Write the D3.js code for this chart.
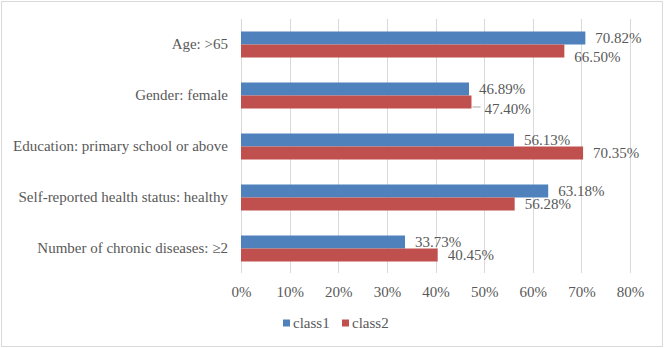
<!DOCTYPE html>
<html>
<head>
<meta charset="utf-8">
<script src="https://cdn.jsdelivr.net/npm/d3@7"></script>
<style>
  html, body { margin: 0; padding: 0; background: #fff; }
</style>
</head>
<body>
<svg id="chart" width="665" height="348"></svg>
<script>
const categories = [
  "Age: >65",
  "Gender: female",
  "Education: primary school or above",
  "Self-reported health status: healthy",
  "Number of chronic diseases: \u22652"
];
const seriesNames = ["class1", "class2"];
const class1 = [70.82, 46.89, 56.13, 63.18, 33.73];
const class2 = [66.50, 47.40, 70.35, 56.28, 40.45];
const xTicks = [0, 10, 20, 30, 40, 50, 60, 70, 80];
const colors = ["#4F81BD", "#C0504D"];

// manual label nudges (vertical px) for class2 labels, as in the reference
const class2LabelNudge = [6, 6.5, 0, 0, 0];

const FONT = "Liberation Serif";
const fontSize = 15;
const TEXT = "#595959";

const svg = d3.select("#chart").style("font-family", FONT);

function styleText(sel) {
  return sel.style("font-family", FONT).style("font-size", fontSize + "px").style("fill", TEXT);
}

// outer frame
svg.append("rect")
  .attr("x", 1.5).attr("y", 1.5).attr("width", 661).attr("height", 345)
  .attr("fill", "#fff").attr("stroke", "#D9D9D9").attr("stroke-width", 1);

const x = d3.scaleLinear().domain([0, 80]).range([241, 630]);
const y = d3.scaleBand().domain(categories).range([19, 274])
  .paddingInner(0.49).paddingOuter(0.245);
const ySub = d3.scaleBand().domain(seriesNames).range([0, y.bandwidth()]);

// gridlines
svg.append("g").selectAll("line").data(xTicks).join("line")
  .attr("x1", d => Math.round(x(d)) + 0.5).attr("x2", d => Math.round(x(d)) + 0.5)
  .attr("y1", 19).attr("y2", 273)
  .attr("stroke", "#D9D9D9").attr("stroke-width", 1);

// x axis labels
const xAxis = d3.axisBottom(x).tickValues(xTicks).tickFormat(d => d + "%").tickSize(0).tickPadding(0);
const gx = svg.append("g").attr("transform", "translate(0,292)").call(xAxis)
  .attr("font-family", null).attr("font-size", null);
gx.select(".domain").remove();
styleText(gx.selectAll("text").attr("dy", "0.35em").attr("y", 0));

// y axis labels
const yAxis = d3.axisLeft(y).tickSize(0).tickPadding(0);
const gy = svg.append("g").attr("transform", "translate(228,0)").call(yAxis)
  .attr("font-family", null).attr("font-size", null);
gy.select(".domain").remove();
styleText(gy.selectAll("text"));

const rows = categories.map((c, i) => ({ cat: c, i, vals: [class1[i], class2[i]] }));

// bars
const g = svg.append("g");
rows.forEach(r => {
  r.vals.forEach((v, s) => {
    const by = y(r.cat) + ySub(seriesNames[s]);
    g.append("rect")
      .attr("x", x(0)).attr("y", by)
      .attr("width", x(v) - x(0)).attr("height", ySub.bandwidth())
      .attr("fill", colors[s]);
  });
});

// data labels
rows.forEach(r => {
  r.vals.forEach((v, s) => {
    const by = y(r.cat) + ySub(seriesNames[s]) + ySub.bandwidth() / 2;
    const nudge = s === 1 ? class2LabelNudge[r.i] : 0;
    const lx = x(v) + (s === 1 && r.i === 1 ? 13 : 10);
    if (s === 1 && r.i === 1) {
      svg.append("line")
        .attr("x1", x(v) + 1).attr("x2", lx - 4)
        .attr("y1", by + nudge - 1.5).attr("y2", by + nudge - 1.5)
        .attr("stroke", "#A6A6A6").attr("stroke-width", 1);
    }
    styleText(svg.append("text")
      .attr("x", lx).attr("y", by + nudge)
      .attr("dy", "0.35em")
      .text(v.toFixed(2) + "%"));
  });
});

// legend
const legend = svg.append("g").attr("transform", "translate(283,323)");
const legX = [0, 59];
seriesNames.forEach((n, s) => {
  const lg = legend.append("g").attr("transform", `translate(${legX[s]},0)`);
  lg.append("rect").attr("x", 0).attr("y", -3.5).attr("width", 7).attr("height", 7).attr("fill", colors[s]);
  styleText(lg.append("text").attr("x", 10).attr("y", 0).attr("dy", "0.35em").text(n));
});
</script>
</body>
</html>
